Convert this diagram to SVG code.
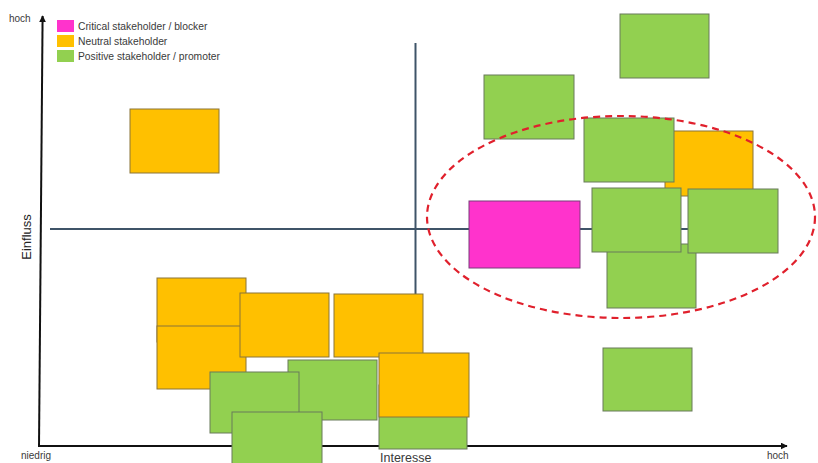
<svg xmlns="http://www.w3.org/2000/svg" width="818" height="463" viewBox="0 0 818 463">
  <defs>
    <marker id="arr" viewBox="0 0 10 10" refX="9" refY="5" markerWidth="7" markerHeight="7" markerUnits="userSpaceOnUse" orient="auto">
      <path d="M0,0 L10,5 L0,10 z" fill="#111"/>
    </marker>
    <style>
      .g { fill: #92D050; stroke: #687a5a; stroke-width: 1; }
      .o { fill: #FFC000; stroke: #8a7438; stroke-width: 1; }
      .m { fill: #FF33CC; stroke: #7a3d7a; stroke-width: 1; }
      .lg { stroke: none; }
      .t { font-family: "Liberation Sans", Arial, sans-serif; fill: #3a3a3a; }
      .axis { stroke: #111; stroke-width: 2; fill: none; }
      .quad { stroke: #3f5468; stroke-width: 2; fill: none; }
    </style>
  </defs>
  <rect width="818" height="463" fill="#ffffff"/>

  <g id="connectors">
    <line class="axis" x1="39" y1="447" x2="42.6" y2="16" marker-end="url(#arr)"/>
    <line class="axis" x1="38" y1="446" x2="787" y2="446" marker-end="url(#arr)"/>
    <line class="quad" x1="50" y1="229" x2="700" y2="229"/>
    <line class="quad" x1="415.5" y1="43" x2="415.5" y2="295" stroke="#5a6c80"/>
  </g>

  <g id="labels">
    <text class="t" x="9" y="22" font-size="10">hoch</text>
    <text class="t" x="21" y="459" font-size="10">niedrig</text>
    <text class="t" x="767" y="459" font-size="10">hoch</text>
    <text class="t" x="380" y="461.5" font-size="12.5">Interesse</text>
    <text class="t" x="0" y="0" font-size="13" fill="#222" transform="translate(31,237) rotate(-90)" text-anchor="middle" style="fill:#222">Einfluss</text>
  </g>

  <g id="legend">
    <rect class="m lg" x="57" y="20" width="17" height="12"/>
    <rect class="o lg" x="57" y="35" width="17" height="12"/>
    <rect class="g lg" x="57" y="50" width="17" height="12"/>
    <text class="t" x="78" y="30" font-size="10.3">Critical stakeholder / blocker</text>
    <text class="t" x="78" y="45" font-size="10.3">Neutral stakeholder</text>
    <text class="t" x="78" y="60" font-size="10.3">Positive stakeholder / promoter</text>
  </g>

  <g id="n-orange-left"><rect class="o" x="130" y="109" width="89" height="64"/></g>
  <g id="n-green-topright"><rect class="g" x="620" y="14" width="89" height="64"/></g>
  <g id="n-green-upper"><rect class="g" x="484" y="75" width="90" height="64"/></g>
  <g id="n-orange-right"><rect class="o" x="665" y="131" width="88" height="65"/></g>
  <g id="n-green-cluster1"><rect class="g" x="584" y="118" width="90" height="64"/></g>
  <g id="n-critical"><rect class="m" x="469" y="201" width="111" height="67"/></g>
  <g id="n-green-cluster4"><rect class="g" x="607" y="244" width="89" height="64"/></g>
  <g id="n-green-cluster2"><rect class="g" x="592" y="188" width="89" height="64"/></g>
  <g id="n-green-cluster3"><rect class="g" x="688" y="189" width="90" height="64"/></g>
  <g id="n-green-lowright"><rect class="g" x="603" y="348" width="89" height="63"/></g>

  <g id="n-orange-a1"><rect class="o" x="157" y="278" width="89" height="64"/></g>
  <g id="n-orange-a2"><rect class="o" x="157" y="326" width="89" height="63"/></g>
  <g id="n-orange-b"><rect class="o" x="240" y="293" width="89" height="64"/></g>
  <g id="n-orange-c"><rect class="o" x="334" y="294" width="89" height="63"/></g>
  <g id="n-green-d"><rect class="g" x="288" y="360" width="89" height="60"/></g>
  <g id="n-green-e"><rect class="g" x="210" y="372" width="89" height="61"/></g>
  <g id="n-green-f"><rect class="g" x="232" y="412" width="90" height="60"/></g>
  <g id="n-green-h"><rect class="g" x="379" y="385" width="88" height="64"/></g>
  <g id="n-orange-g"><rect class="o" x="379" y="353" width="90" height="64"/></g>

  <g id="highlight">
    <ellipse cx="621" cy="217" rx="194" ry="101" fill="none" stroke="#e0202c" stroke-width="2.2" stroke-dasharray="7 5"/>
  </g>
</svg>
